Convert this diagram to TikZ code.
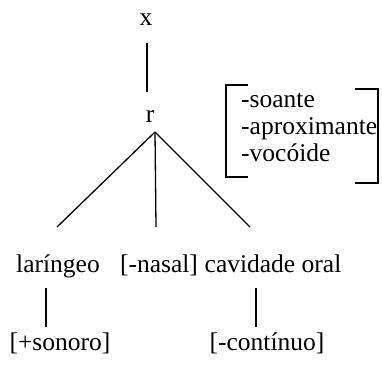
\documentclass[tikz,border=0pt]{standalone}
\usepackage{fontspec}
\setmainfont{Liberation Serif}
\usepackage{tikz}

\tikzset{
	seg/.style={anchor=base,inner sep=0pt,font=\fontsize{25.5}{27}\selectfont},
	feat/.style={seg,anchor=base west},
	ramo/.style={line width=1.3pt}
}

\begin{document}
\begin{tikzpicture}[x=1pt,y=-1pt]
		\useasboundingbox (0,0) rectangle (382,367);
		% root, r node and the features under it
		\node[seg] (x) at (146,25) {x};
		\node[seg] (r) at (150,122) {r};
		\node[seg] (lar) at (58,272) {laríngeo};
		\node[seg] (nas) at (159,272) {[-nasal]};
		\node[seg] (cav) at (273,272) {cavidade oral};
		\node[seg] (son) at (60,350) {[+sonoro]};
		\node[seg] (cont) at (267,350) {[-contínuo]};
		\draw[ramo,shorten <=18pt,shorten >=18pt] ([xshift=1pt]x.south) -- ([xshift=1pt]x.south |- r.north);
		\coordinate (r0) at ([xshift=5pt,yshift=-10pt]r.base);
		\draw[ramo] (r0) -- ([xshift=-1pt,yshift=45pt]lar.base);
		\draw[ramo] (r0) -- ([xshift=-3pt,yshift=45pt]nas.base);
		\draw[ramo] (r0) -- ([xshift=-23pt,yshift=45pt]cav.base);
		\draw[ramo] ([xshift=-12pt,yshift=-16pt]lar.base) -- ([xshift=-14pt,yshift=23pt]son.base);
		\draw[ramo] ([xshift=-17pt,yshift=-16pt]cav.base) -- ([xshift=-11pt,yshift=23pt]cont.base);
		% feature matrix of r
		\node[feat] (soa) at (241,107) {-soante};
		\node[feat] (apr) at (241,134) {-aproximante};
		\node[feat] (voc) at (241,161) {-vocóide};
		\draw[ramo] (248,85) -- (226,85) -- (226,177) -- (248,177);
		\draw[ramo] (355,89) -- (378,89) -- (378,183) -- (355,183);
\end{tikzpicture}
\end{document}
